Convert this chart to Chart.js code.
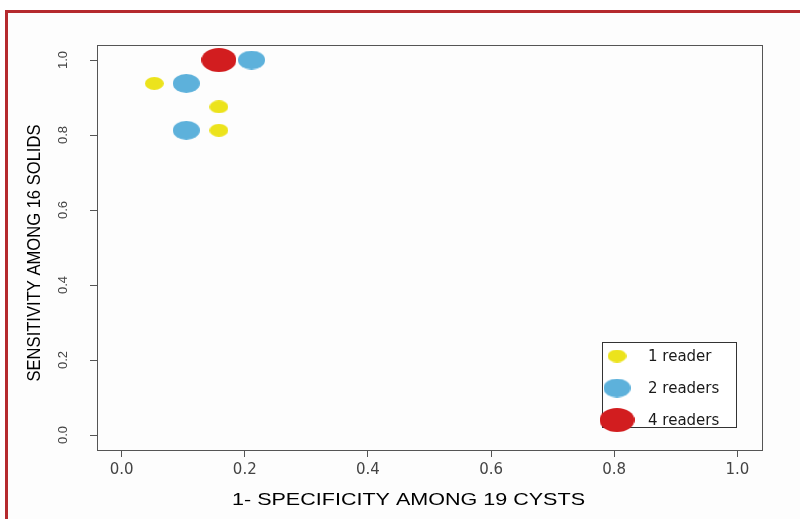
<!DOCTYPE html>
<html>
<head>
<meta charset="utf-8">
<script src="https://cdn.jsdelivr.net/npm/chart.js@4"></script>
<style>
  html, body { margin:0; padding:0; background:#ffffff; width:800px; height:519px; overflow:hidden; }
  #frame { position:absolute; left:5px; top:10px; width:900px; height:600px; border:3px solid #b52a2e; background:#fdfdfd; }
  #c { position:absolute; left:0; top:0; }
</style>
</head>
<body>
<div id="frame"></div>
<canvas id="c" width="800" height="519"></canvas>
<script>
// ---- data ----
const seriesLabels = ['1 reader', '2 readers', '4 readers'];
const oneReaderX = [0.053, 0.158, 0.158];
const oneReaderY = [0.9375, 0.875, 0.8125];
const twoReadersX = [0.211, 0.105, 0.105];
const twoReadersY = [1.0, 0.9375, 0.8125];
const fourReadersX = [0.158];
const fourReadersY = [1.0];
const xTicks = [0.0, 0.2, 0.4, 0.6, 0.8, 1.0];
const yTicks = [0.0, 0.2, 0.4, 0.6, 0.8, 1.0];
const xTitle = '1- SPECIFICITY AMONG 19 CYSTS';
const yTitle = 'SENSITIVITY AMONG 16 SOLIDS';

// ---- marker images (ellipses) ----
function ellipse(color, w, h) {
  const cv = document.createElement('canvas');
  cv.width = w; cv.height = h;
  const g = cv.getContext('2d');
  g.fillStyle = color;
  g.beginPath();
  g.ellipse(w / 2, h / 2, w / 2, h / 2, 0, 0, Math.PI * 2);
  g.fill();
  return cv;
}
const yellowMark = ellipse('#ece31c', 19, 13);
const blueMark = ellipse('#5db1db', 27, 19);
const redMark = ellipse('#d21d1f', 35, 24);

function pts(xs, ys) { return xs.map((x, i) => ({ x: x, y: ys[i] })); }

const boxPlugin = {
  id: 'boxPlugin',
  afterDatasetsDraw(chart) {
    const { ctx, chartArea: a } = chart;
    ctx.save();
    ctx.strokeStyle = '#555';
    ctx.lineWidth = 1;
    ctx.strokeRect(Math.round(a.left) + 0.5, Math.round(a.top) + 0.5, Math.round(a.right - a.left), Math.round(a.bottom - a.top));
    ctx.restore();
  }
};

// axis titles, stretched like the reference's scanned text
const titlePlugin = {
  id: 'axisTitles',
  afterDraw(chart) {
    const { ctx } = chart;
    ctx.save();
    ctx.fillStyle = '#000';
    ctx.textAlign = 'center';
    ctx.textBaseline = 'middle';
    ctx.font = '17px "Liberation Sans", Arial, sans-serif';
    // x title
    let w = ctx.measureText(xTitle).width;
    ctx.save();
    ctx.translate(408.5, 500);
    ctx.scale(353 / w, 1);
    ctx.fillText(xTitle, 0, 0);
    ctx.restore();
    // y title
    w = ctx.measureText(yTitle).width;
    ctx.save();
    ctx.translate(35, 253);
    ctx.rotate(-Math.PI / 2);
    ctx.scale(257 / w, 1.05);
    ctx.fillText(yTitle, 0, 0);
    ctx.restore();
    ctx.restore();
  }
};

const legendPlugin = {
  id: 'customLegend',
  afterDraw(chart) {
    const { ctx } = chart;
    const bx = 602, by = 342, bw = 134, bh = 85;
    ctx.save();
    ctx.fillStyle = '#ffffff';
    ctx.fillRect(bx, by, bw, bh);
    ctx.strokeStyle = '#333';
    ctx.lineWidth = 1;
    ctx.strokeRect(bx + 0.5, by + 0.5, bw, bh);
    const rows = [356, 388, 420];
    ctx.font = '15px "DejaVu Sans", sans-serif';
    ctx.fillStyle = '#1a1a1a';
    ctx.textBaseline = 'middle';
    chart.data.datasets.forEach((ds, i) => {
      const img = ds.pointStyle;
      ctx.drawImage(img, 617 - img.width / 2, rows[i] - img.height / 2);
      ctx.fillText(ds.label, 648, rows[i] + 1);
    });
    ctx.restore();
  }
};

new Chart(document.getElementById('c'), {
  type: 'scatter',
  data: {
    datasets: [
      { label: seriesLabels[0], data: pts(oneReaderX, oneReaderY), pointStyle: yellowMark, pointRadius: 8, backgroundColor: '#ece31c' },
      { label: seriesLabels[1], data: pts(twoReadersX, twoReadersY), pointStyle: blueMark, pointRadius: 11, backgroundColor: '#5db1db' },
      { label: seriesLabels[2], data: pts(fourReadersX, fourReadersY), pointStyle: redMark, pointRadius: 14, backgroundColor: '#d21d1f' }
    ]
  },
  options: {
    responsive: false,
    animation: false,
    layout: { padding: { left: 0, top: 45, right: 38, bottom: 0 } },
    plugins: { legend: { display: false }, tooltip: { enabled: false } },
    scales: {
      x: {
        type: 'linear', min: -0.04, max: 1.04,
        afterBuildTicks: s => { s.ticks = xTicks.map(v => ({ value: v })); },
        afterFit: s => { s.height = 69; },
        grid: { drawOnChartArea: false, drawTicks: true, tickLength: 7, color: '#555' },
        border: { display: false },
        ticks: { color: '#444', font: { size: 15, family: '"DejaVu Sans", sans-serif' }, padding: 4, maxRotation: 0, callback: v => Number(v).toFixed(1) },
        title: { display: false, text: xTitle }
      },
      y: {
        type: 'linear', min: -0.04, max: 1.04,
        afterBuildTicks: s => { s.ticks = yTicks.map(v => ({ value: v })); },
        afterFit: s => { s.width = 97; },
        grid: { drawOnChartArea: false, drawTicks: true, tickLength: 7, color: '#555' },
        border: { display: false },
        ticks: { color: '#444', font: { size: 13, family: '"Liberation Sans", Arial, sans-serif' }, padding: 18, minRotation: 90, maxRotation: 90, crossAlign: 'center', callback: v => Number(v).toFixed(1) },
        title: { display: false, text: yTitle }
      }
    }
  },
  plugins: [boxPlugin, titlePlugin, legendPlugin]
});
</script>
</body>
</html>
